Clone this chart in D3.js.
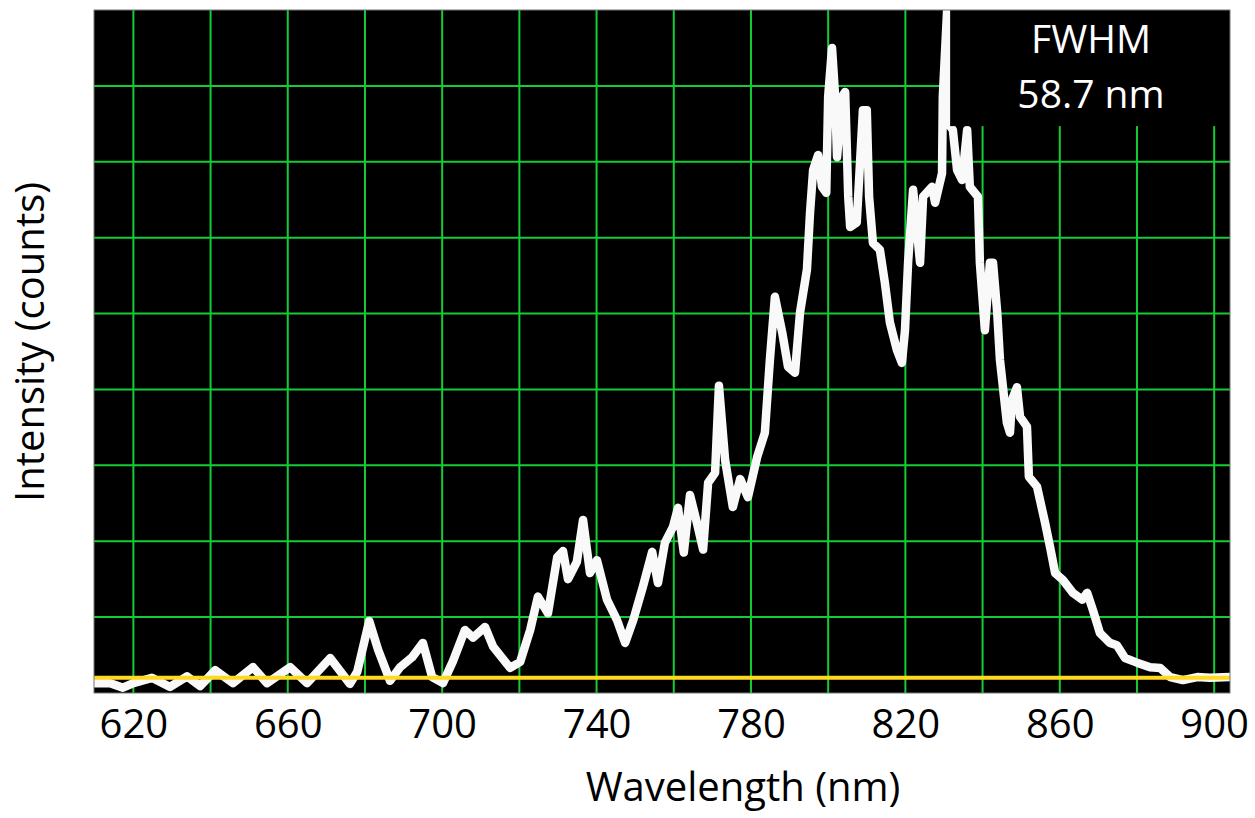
<!DOCTYPE html>
<html>
<head>
<meta charset="utf-8">
<script src="https://cdn.jsdelivr.net/npm/d3@7"></script>
<style>
  html, body { margin: 0; padding: 0; background: #ffffff; }
  svg { display: block; }
  text { font-family: "Open Sans", "Noto Sans", sans-serif; }
</style>
</head>
<body>
<svg id="chart" width="1255" height="818"></svg>
<script>
// ---- Data ----
const wavelength = [
  609.8, 614.0, 617.3, 620.0, 624.8, 629.5, 633.9, 637.3, 641.2, 645.8,
  651.0, 654.6, 660.6, 665.0, 671.0, 676.1, 678.0, 681.1, 683.4, 686.5,
  689.1, 692.2, 695.0, 697.4, 700.2, 702.8, 705.9, 708.0, 711.1, 713.2,
  717.6, 720.2, 722.8, 724.8, 727.4, 729.8, 731.3, 732.6, 734.9, 736.5,
  738.3, 740.1, 742.7, 745.3, 747.4, 749.5, 752.0, 754.4, 755.9, 757.7,
  759.8, 761.1, 762.6, 764.2, 766.0, 767.6, 768.9, 770.7, 771.7, 773.3,
  775.3, 777.2, 779.2, 781.6, 783.6, 784.9, 786.2, 788.1, 789.6, 791.4,
  792.7, 794.5, 795.3, 796.1, 797.4, 798.4, 799.5, 800.0, 801.0, 801.8,
  802.3, 803.6, 804.4, 805.2, 805.7, 807.4, 809.0, 810.0, 810.6, 811.6,
  813.4, 814.7, 816.0, 817.8, 819.1, 819.9, 820.7, 822.0, 823.0, 823.8,
  824.6, 826.9, 827.7, 829.5, 829.7, 830.8, 831.0, 832.3, 833.4, 834.7,
  836.0, 836.7, 838.8, 839.3, 840.6, 841.9, 842.7, 843.8, 844.5, 846.3,
  847.1, 847.6, 848.9, 849.7, 851.5, 852.0, 854.1, 856.2, 857.5, 858.8,
  860.8, 863.4, 865.8, 867.1, 868.6, 870.4, 873.0, 874.8, 876.9, 880.0,
  883.4, 886.0, 888.6, 891.9, 895.6, 898.9, 904.1
];
const intensity = [
  130, 130, 70, 130, 200, 80, 220, 90, 300, 130,
  340, 130, 340, 130, 460, 120, 280, 950, 570, 160,
  340, 470, 660, 210, 130, 420, 830, 730, 870, 610,
  330, 410, 830, 1270, 1050, 1790, 1870, 1500, 1730, 2280,
  1580, 1750, 1230, 960, 660, 960, 1400, 1860, 1450, 1980,
  2190, 2440, 1850, 2610, 2240, 1890, 2770, 2900, 4050, 3070,
  2450, 2820, 2580, 3110, 3430, 4390, 5220, 4750, 4300, 4220,
  5010, 5580, 6330, 6890, 7090, 6670, 6590, 7860, 8500, 7860,
  7060, 7860, 7920, 6540, 6140, 6200, 7680, 7680, 6540, 5930,
  5840, 5400, 4880, 4520, 4350, 4780, 5670, 6630, 6100, 5670,
  6540, 6670, 6460, 6850, 7860, 8980, 7510, 7420, 6890, 6760,
  7420, 6670, 6540, 5670, 4780, 5670, 5670, 5010, 4390, 3560,
  3430, 3860, 4030, 3640, 3510, 2850, 2720, 2240, 1920, 1580,
  1490, 1320, 1230, 1320, 1090, 790, 660, 630, 460, 400,
  340, 330, 210, 170, 210, 200, 210
];
const xTicks = [620, 660, 700, 740, 780, 820, 860, 900];
const xGrid = [620, 640, 660, 680, 700, 720, 740, 760, 780, 800, 820, 840, 860, 880, 900];
const yGrid = [1000, 2000, 3000, 4000, 5000, 6000, 7000, 8000];
const baselineLevel = 200;
const xDomain = [609.8, 904.1];
const yDomain = [0, 9000];
const annotationLines = ["FWHM", "58.7 nm"];
const xTitle = "Wavelength (nm)";
const yTitle = "Intensity (counts)";

// ---- Layout ----
const svg = d3.select("#chart");
const plot = { left: 94, top: 10, right: 1230, bottom: 693 };

const x = d3.scaleLinear().domain(xDomain).range([plot.left, plot.right]);
const y = d3.scaleLinear().domain(yDomain).range([plot.bottom, plot.top]);

svg.append("defs").append("clipPath").attr("id", "plotClip")
  .append("rect")
  .attr("x", plot.left).attr("y", plot.top)
  .attr("width", plot.right - plot.left).attr("height", plot.bottom - plot.top);

// background
svg.append("rect")
  .attr("x", plot.left).attr("y", plot.top)
  .attr("width", plot.right - plot.left).attr("height", plot.bottom - plot.top)
  .attr("fill", "#000000");

const gridColor = "#14cc36";
const g = svg.append("g").attr("clip-path", "url(#plotClip)");

// vertical grid
g.selectAll("line.vg").data(xGrid).join("line")
  .attr("class", "vg")
  .attr("x1", d => x(d)).attr("x2", d => x(d))
  .attr("y1", plot.top).attr("y2", plot.bottom)
  .attr("stroke", gridColor).attr("stroke-width", 2);

// horizontal grid
g.selectAll("line.hg").data(yGrid).join("line")
  .attr("class", "hg")
  .attr("x1", plot.left).attr("x2", plot.right)
  .attr("y1", d => y(d)).attr("y2", d => y(d))
  .attr("stroke", gridColor).attr("stroke-width", 2);

// spectrum
const pts = wavelength.map((w, i) => [w, intensity[i]]);
const line = d3.line().x(d => x(d[0])).y(d => y(d[1])).curve(d3.curveLinear);
g.append("path")
  .datum(pts)
  .attr("d", line)
  .attr("fill", "none")
  .attr("stroke", "#f9f9f9")
  .attr("stroke-width", 8.5)
  .attr("stroke-linejoin", "round")
  .attr("stroke-linecap", "round");

// baseline
g.append("line")
  .attr("x1", plot.left).attr("x2", plot.right)
  .attr("y1", y(baselineLevel)).attr("y2", y(baselineLevel))
  .attr("stroke", "#ffd91e").attr("stroke-width", 4);

// annotation box
g.append("rect")
  .attr("x", x(831.6)).attr("y", plot.top)
  .attr("width", plot.right - x(831.6)).attr("height", y(7470) - plot.top)
  .attr("fill", "#000000");

svg.append("text")
  .attr("x", 1091).attr("y", 53)
  .attr("text-anchor", "middle")
  .attr("font-size", 39).attr("fill", "#ffffff")
  .text(annotationLines[0]);
svg.append("text")
  .attr("x", 1091).attr("y", 108)
  .attr("text-anchor", "middle")
  .attr("font-size", 39).attr("fill", "#ffffff")
  .text(annotationLines[1]);

// plot frame
svg.append("rect")
  .attr("x", plot.left).attr("y", plot.top)
  .attr("width", plot.right - plot.left).attr("height", plot.bottom - plot.top)
  .attr("fill", "none").attr("stroke", "#777").attr("stroke-width", 1);

// x axis tick labels via d3 axis
const xAxis = d3.axisBottom(x).tickValues(xTicks).tickSize(0).tickPadding(0).tickFormat(d3.format("d"));
const ax = svg.append("g")
  .attr("transform", `translate(0, ${plot.bottom})`)
  .call(xAxis);
ax.select(".domain").remove();
ax.selectAll("text")
  .attr("y", 45).attr("dy", null)
  .attr("font-size", 40)
  .attr("font-family", "'Open Sans', 'Noto Sans', sans-serif")
  .attr("fill", "#000");

// axis titles
svg.append("text")
  .attr("x", 743).attr("y", 801)
  .attr("text-anchor", "middle")
  .attr("font-size", 40).attr("fill", "#000")
  .text(xTitle);

svg.append("text")
  .attr("transform", "translate(44, 342) rotate(-90)")
  .attr("text-anchor", "middle")
  .attr("font-size", 40).attr("fill", "#000")
  .text(yTitle);
</script>
</body>
</html>
